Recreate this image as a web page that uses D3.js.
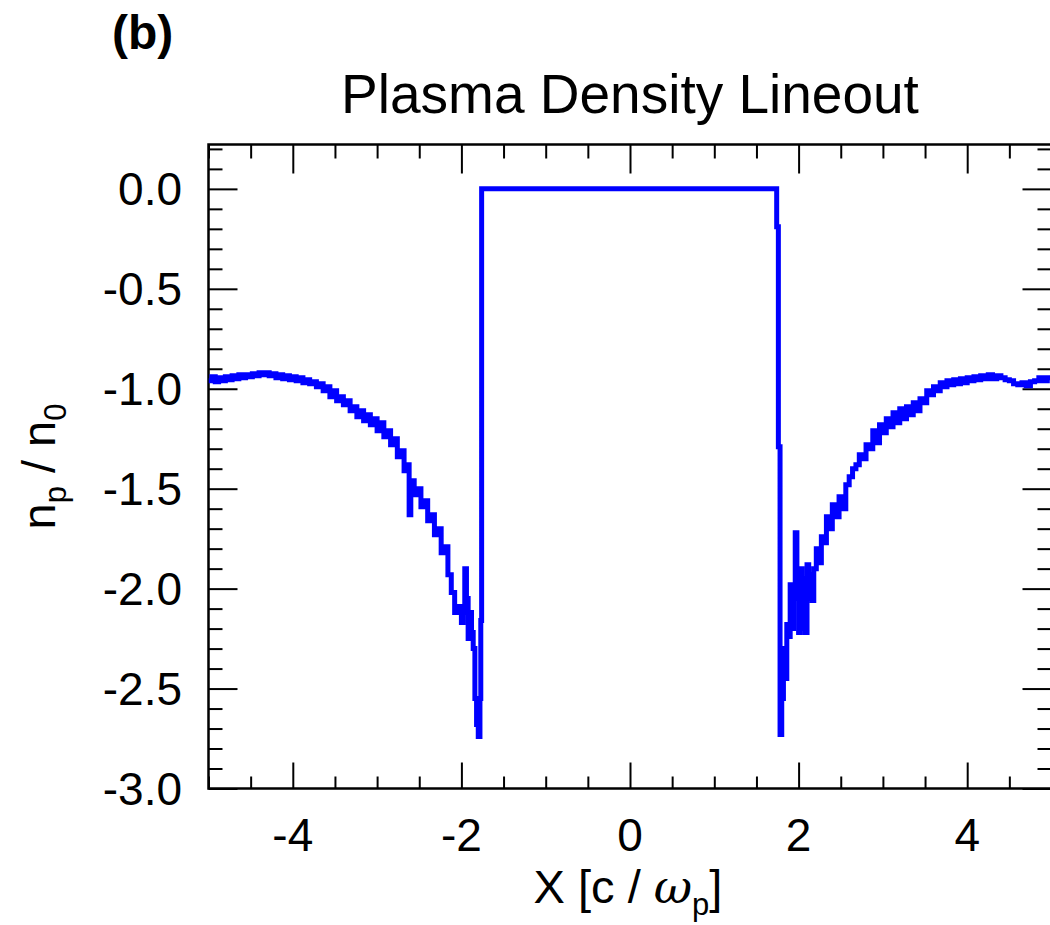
<!DOCTYPE html>
<html>
<head>
<meta charset="utf-8">
<script src="https://cdn.jsdelivr.net/npm/d3@7"></script>
<style>
  body { margin: 0; background: #fff; }
  text { font-family: "Liberation Sans", Arial, Helvetica, sans-serif; fill: #000; }
</style>
</head>
<body>
<div id="chart"></div>
<script>
// left wake region, x in c/wp, density n_p/n_0
const leftX = [-5.00, -4.96, -4.92, -4.88, -4.84, -4.80, -4.76, -4.72, -4.68, -4.64,
    -4.60, -4.56, -4.52, -4.48, -4.44, -4.40, -4.36, -4.32, -4.28, -4.24,
    -4.20, -4.16, -4.12, -4.08, -4.04, -4.00, -3.96, -3.92, -3.88, -3.84,
    -3.80, -3.76, -3.72, -3.68, -3.64, -3.60, -3.56, -3.52, -3.48, -3.44,
    -3.40, -3.36, -3.32, -3.28, -3.24, -3.20, -3.16, -3.12, -3.08, -3.04,
    -3.00, -2.96, -2.92, -2.88, -2.84, -2.80, -2.76, -2.72, -2.68, -2.64,
    -2.62, -2.60, -2.56, -2.52, -2.48, -2.44, -2.40, -2.36, -2.32, -2.28,
    -2.24, -2.20, -2.16, -2.12, -2.08, -2.04, -2.00, -1.98, -1.96, -1.94,
    -1.92, -1.90, -1.88, -1.86, -1.84, -1.82, -1.80, -1.78, -1.77];
const leftN = [-0.96, -0.94, -0.965, -0.945, -0.96, -0.94, -0.955, -0.935, -0.95, -0.93,
    -0.945, -0.93, -0.94, -0.925, -0.935, -0.92, -0.93, -0.92, -0.935, -0.925,
    -0.945, -0.93, -0.95, -0.935, -0.955, -0.94, -0.96, -0.945, -0.97, -0.955,
    -0.975, -0.965, -0.99, -0.975, -1.01, -0.99, -1.04, -1.01, -1.06, -1.04,
    -1.08, -1.06, -1.11, -1.09, -1.14, -1.11, -1.16, -1.13, -1.18, -1.15,
    -1.21, -1.17, -1.24, -1.21, -1.28, -1.25, -1.34, -1.31, -1.41, -1.38,
    -1.63, -1.46, -1.53, -1.50, -1.59, -1.56, -1.66, -1.63, -1.73, -1.70,
    -1.82, -1.79, -1.93, -2.02, -2.12, -2.09, -2.17, -2.12, -1.90, -2.05,
    -2.25, -2.12, -2.22, -2.30, -2.55, -2.68, -2.74, -2.55, -2.16];

// evacuated bubble (flat top)
const bubbleX = [-1.76];
const bubbleN = [0.0];

// right wake region
const rightX = [1.74, 1.76, 1.78, 1.80, 1.82, 1.84, 1.86, 1.88, 1.90, 1.92,
    1.94, 1.96, 1.98, 2.00, 2.02, 2.04, 2.06, 2.08, 2.10, 2.12,
    2.14, 2.16, 2.18, 2.21, 2.24, 2.27, 2.30, 2.33, 2.36, 2.40,
    2.44, 2.48, 2.52, 2.56, 2.60, 2.64, 2.68, 2.72, 2.76, 2.80,
    2.84, 2.88, 2.92, 2.96, 3.00, 3.04, 3.08, 3.12, 3.16, 3.20,
    3.24, 3.28, 3.32, 3.36, 3.40, 3.44, 3.48, 3.52, 3.56, 3.60,
    3.64, 3.68, 3.72, 3.76, 3.80, 3.84, 3.88, 3.92, 3.96, 4.00,
    4.04, 4.08, 4.12, 4.16, 4.20, 4.25, 4.30, 4.35, 4.40, 4.45,
    4.50, 4.55, 4.60, 4.65, 4.70, 4.75, 4.80, 4.85, 4.90, 4.95, 5.00];
const rightN = [-0.19, -1.29, -2.73, -2.55, -2.30, -2.45, -2.18, -2.24, -1.98, -2.20,
    -2.00, -1.72, -2.05, -2.22, -1.90, -2.20, -1.95, -2.22, -1.88, -2.05,
    -1.93, -2.06, -1.90, -1.80, -1.87, -1.74, -1.77, -1.64, -1.70, -1.58,
    -1.64, -1.54, -1.60, -1.48, -1.44, -1.40, -1.38, -1.33, -1.35, -1.28,
    -1.30, -1.21, -1.27, -1.18, -1.22, -1.15, -1.19, -1.12, -1.17, -1.10,
    -1.15, -1.09, -1.13, -1.07, -1.11, -1.05, -1.07, -1.01, -1.03, -0.99,
    -1.01, -0.97, -0.99, -0.96, -0.98, -0.955, -0.975, -0.95, -0.97, -0.945,
    -0.96, -0.94, -0.955, -0.935, -0.95, -0.93, -0.95, -0.935, -0.945, -0.955,
    -0.96, -0.975, -0.98, -0.97, -0.985, -0.965, -0.96, -0.945, -0.96, -0.945, -0.955];

const xMajorTicks = [-4, -2, 0, 2, 4];
const xTickLabels = ['-4', '-2', '0', '2', '4'];
const yMajorTicks = [0, -0.5, -1, -1.5, -2, -2.5, -3];
const yTickLabels = ['0.0', '-0.5', '-1.0', '-1.5', '-2.0', '-2.5', '-3.0'];

const width = 1050, height = 925;
const plot = { left: 208.5, right: 1051.5, top: 144.5, bottom: 788.5 };

const svg = d3.select('#chart')
    .append('svg')
    .attr('width', width)
    .attr('height', height);

const xScale = d3.scaleLinear().domain([-5, 5]).range([plot.left, plot.right]);
const yScale = d3.scaleLinear().domain([-3, 0.222]).range([plot.bottom, plot.top]);

// minor ticks every 0.5 in x and 0.1 in y
const xMinor = d3.range(-50, 51, 5).map(d => d / 10).filter(d => !xMajorTicks.includes(d));
const yMinor = d3.range(-30, 3).map(d => d / 10).filter(d => !yMajorTicks.some(t => Math.abs(t - d) < 1e-9));

const styleAxis = g => {
    g.select('.domain').remove();
    g.selectAll('.tick line').attr('stroke', '#000').attr('stroke-width', 2);
    g.selectAll('.tick text').remove();
};

// bottom
svg.append('g').attr('transform', `translate(0,${plot.bottom})`)
    .call(d3.axisTop(xScale).tickValues(xMajorTicks).tickSize(26)).call(styleAxis);
svg.append('g').attr('transform', `translate(0,${plot.bottom})`)
    .call(d3.axisTop(xScale).tickValues(xMinor).tickSize(12)).call(styleAxis);
// top
svg.append('g').attr('transform', `translate(0,${plot.top})`)
    .call(d3.axisBottom(xScale).tickValues(xMajorTicks).tickSize(29)).call(styleAxis);
svg.append('g').attr('transform', `translate(0,${plot.top})`)
    .call(d3.axisBottom(xScale).tickValues(xMinor).tickSize(14)).call(styleAxis);
// left
svg.append('g').attr('transform', `translate(${plot.left},0)`)
    .call(d3.axisRight(yScale).tickValues(yMajorTicks).tickSize(29)).call(styleAxis);
svg.append('g').attr('transform', `translate(${plot.left},0)`)
    .call(d3.axisRight(yScale).tickValues(yMinor).tickSize(14)).call(styleAxis);
// right
svg.append('g').attr('transform', `translate(${plot.right},0)`)
    .call(d3.axisLeft(yScale).tickValues(yMajorTicks).tickSize(29)).call(styleAxis);
svg.append('g').attr('transform', `translate(${plot.right},0)`)
    .call(d3.axisLeft(yScale).tickValues(yMinor).tickSize(14)).call(styleAxis);

// frame
svg.append('rect')
    .attr('x', plot.left)
    .attr('y', plot.top)
    .attr('width', plot.right - plot.left)
    .attr('height', plot.bottom - plot.top)
    .attr('fill', 'none')
    .attr('stroke', '#000')
    .attr('stroke-width', 2.5);

// tick labels
svg.selectAll('.xlab')
    .data(xMajorTicks)
    .enter()
    .append('text')
    .attr('x', d => xScale(d))
    .attr('y', 851)
    .attr('text-anchor', 'middle')
    .style('font-size', '46px')
    .text((d, i) => xTickLabels[i]);

svg.selectAll('.ylab')
    .data(yMajorTicks)
    .enter()
    .append('text')
    .attr('x', 182)
    .attr('y', d => yScale(d) + 16.5)
    .attr('text-anchor', 'end')
    .style('font-size', '46px')
    .text((d, i) => yTickLabels[i]);

// density line
const points = [];
leftX.forEach((x, i) => points.push([x, leftN[i]]));
bubbleX.forEach((x, i) => points.push([x, bubbleN[i]]));
rightX.forEach((x, i) => points.push([x, rightN[i]]));

svg.append('clipPath').attr('id', 'clip')
    .append('rect')
    .attr('x', plot.left).attr('y', plot.top)
    .attr('width', plot.right - plot.left).attr('height', plot.bottom - plot.top);

svg.append('path')
    .datum(points)
    .attr('clip-path', 'url(#clip)')
    .attr('fill', 'none')
    .attr('stroke', '#0000ff')
    .attr('stroke-width', 5)
    .attr('stroke-linejoin', 'miter')
    .attr('d', d3.line()
        .x(d => xScale(d[0]))
        .y(d => yScale(d[1]))
        .curve(d3.curveStepAfter));

// title and panel letter
svg.append('text')
    .attr('x', (plot.left + plot.right) / 2)
    .attr('y', 113)
    .attr('text-anchor', 'middle')
    .style('font-size', '55px')
    .text('Plasma Density Lineout');

svg.append('text')
    .attr('x', 112)
    .attr('y', 49)
    .style('font-size', '48px')
    .style('font-weight', 'bold')
    .text('(b)');

// axis titles
const xTitle = svg.append('text')
    .attr('x', 628)
    .attr('y', 903)
    .attr('text-anchor', 'middle')
    .style('font-size', '47px');
xTitle.append('tspan').text('X [c / ');
xTitle.append('tspan').style('font-style', 'italic').style('font-family', 'DejaVu Serif, serif').text('ω');
xTitle.append('tspan').attr('dy', 12).style('font-size', '31px').text('p');
xTitle.append('tspan').attr('dy', -12).text(']');

const yTitle = svg.append('text')
    .attr('transform', `translate(55,${(plot.top + plot.bottom) / 2}) rotate(-90)`)
    .attr('text-anchor', 'middle')
    .style('font-size', '47px');
yTitle.append('tspan').text('n');
yTitle.append('tspan').attr('dy', 11).style('font-size', '31px').text('p');
yTitle.append('tspan').attr('dy', -11).text(' / n');
yTitle.append('tspan').attr('dy', 11).style('font-size', '31px').text('0');
</script>
</body>
</html>
